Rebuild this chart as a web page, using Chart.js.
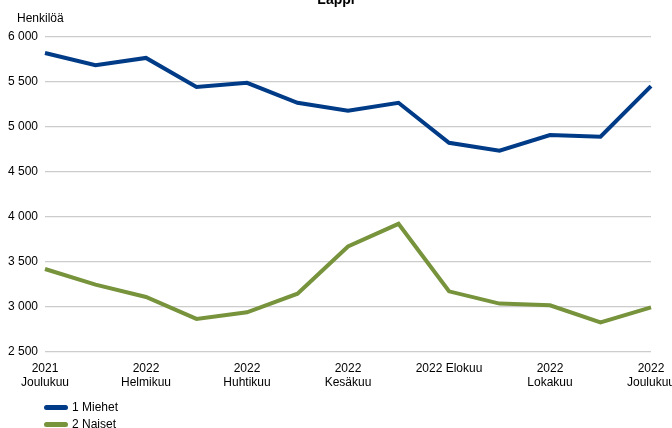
<!DOCTYPE html>
<html>
<head>
<meta charset="utf-8">
<script src="https://cdn.jsdelivr.net/npm/chart.js@4"></script>
<style>
  body { margin: 0; background: #fff; font-family: "Liberation Sans", Arial, sans-serif; }
  #wrap { position: relative; width: 672px; height: 428px; }
  #legend { position: absolute; left: 44px; top: 399px; font-size: 12px; color: #000; }
  #legend div { height: 17px; line-height: 17px; }
  #legend span.sw { display: inline-block; width: 24px; height: 5px; border-radius: 3px; vertical-align: middle; margin-right: 4px; }
</style>
</head>
<body>
<div id="wrap">
  <canvas id="myChart" width="672" height="428"></canvas>
  <div id="legend"></div>
</div>
<script>
// Lappi, työttömät työnhakijat sukupuolen mukaan
var months = [
  ["2021", "Joulukuu"], "", ["2022", "Helmikuu"], "", ["2022", "Huhtikuu"], "",
  ["2022", "Kesäkuu"], "", "2022 Elokuu", "", ["2022", "Lokakuu"], "", ["2022", "Joulukuu"]
];
var miehet = [5822, 5686, 5767, 5444, 5489, 5267, 5178, 5267, 4822, 4733, 4908, 4889, 5453];
var naiset = [3416, 3241, 3104, 2860, 2933, 3141, 3667, 3919, 3167, 3030, 3011, 2822, 2989];
var seriesNames = ["1 Miehet", "2 Naiset"];
var seriesColors = ["#003B87", "#77933C"];

Chart.defaults.font.family = '"Liberation Sans", Arial, sans-serif';
Chart.defaults.font.size = 12;
Chart.defaults.color = "#000";

function fmt(v) {
  return String(v).replace(/\B(?=(\d{3})+(?!\d))/g, " ");
}

// otsikko ja yksikkö
var extraText = {
  id: "extraText",
  afterDraw: function (chart) {
    var ctx = chart.ctx;
    ctx.save();
    ctx.fillStyle = "#000";
    ctx.font = 'bold 14px "Liberation Sans", Arial, sans-serif';
    ctx.textAlign = "center";
    ctx.textBaseline = "alphabetic";
    ctx.fillText("Lappi", 336, 4);
    ctx.font = '12px "Liberation Sans", Arial, sans-serif';
    ctx.textAlign = "left";
    ctx.fillText("Henkilöä", 17, 22);
    ctx.restore();
  }
};

new Chart("myChart", {
  type: "line",
  data: {
    labels: months,
    datasets: [{
      label: seriesNames[0],
      data: miehet,
      borderColor: seriesColors[0],
      borderWidth: 4,
      pointRadius: 0,
      tension: 0,
      fill: false
    }, {
      label: seriesNames[1],
      data: naiset,
      borderColor: seriesColors[1],
      borderWidth: 4,
      pointRadius: 0,
      tension: 0,
      fill: false
    }]
  },
  options: {
    responsive: false,
    animation: false,
    layout: { padding: { top: 37, right: 21, bottom: 36, left: 0 } },
    plugins: {
      legend: { display: false },
      title: { display: false },
      tooltip: { enabled: false }
    },
    scales: {
      x: {
        offset: false,
        afterFit: function (axis) { axis.paddingRight = 0; axis.paddingLeft = 0; },
        grid: { display: false },
        border: { display: false },
        ticks: { autoSkip: false, maxRotation: 0, padding: 2, font: { size: 12 } }
      },
      y: {
        min: 2500,
        max: 6000,
        afterFit: function (axis) { axis.width = 45; },
        grid: { color: "#cccccc", lineWidth: 1.3, drawTicks: false },
        border: { display: false },
        ticks: { stepSize: 500, padding: 7, callback: function (v) { return fmt(v); } }
      }
    }
  },
  plugins: [extraText]
});

var lg = document.getElementById("legend");
seriesNames.forEach(function (n, i) {
  lg.innerHTML += '<div><span class="sw" style="background:' + seriesColors[i] + '"></span>' + n + '</div>';
});
</script>
</body>
</html>
